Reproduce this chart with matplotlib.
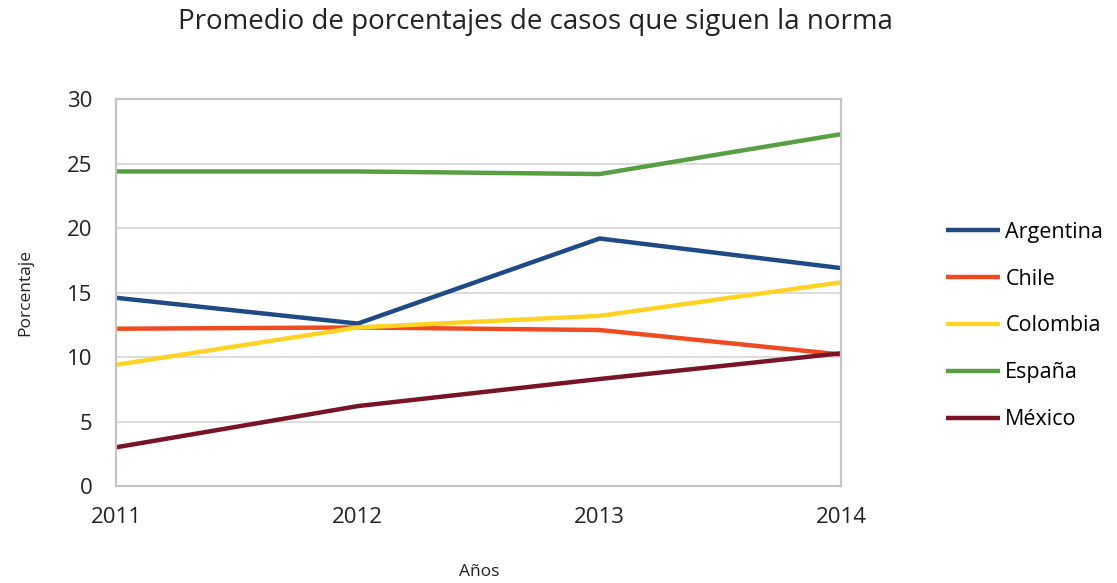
import matplotlib
matplotlib.use('Agg')
import matplotlib.pyplot as plt

plt.rcParams['font.family'] = ['Open Sans', 'DejaVu Sans']

years = [2011, 2012, 2013, 2014]
argentina = [14.6, 12.6, 19.2, 16.9]
chile = [12.2, 12.3, 12.1, 10.2]
colombia = [9.4, 12.3, 13.2, 15.8]
espana = [24.4, 24.4, 24.2, 27.3]
mexico = [3.0, 6.2, 8.3, 10.3]

series = [
    ('Argentina', argentina, '#1F4A85'),
    ('Chile', chile, '#EF4B23'),
    ('Colombia', colombia, '#FFD324'),
    ('España', espana, '#5A9E44'),
    ('México', mexico, '#781426'),
]

fig = plt.figure(figsize=(11.17, 5.83), dpi=100)
ax = fig.add_axes([0.1039, 0.1664, 0.6494, 0.6633])

for name, vals, col in series:
    ax.plot(years, vals, color=col, lw=3.2, label=name, solid_capstyle='butt')

ax.set_xlim(2011, 2014)
ax.set_ylim(0, 30)
ax.set_xticks(years)
ax.set_yticks(range(0, 31, 5))
ax.yaxis.grid(True, color='#D9D9D9', lw=1.3)
ax.set_axisbelow(True)
for s in ax.spines.values():
    s.set_color('#C4C4C4')
    s.set_linewidth(1.6)
ax.tick_params(length=0, labelsize=16, colors='#222222')
ax.tick_params(axis='x', pad=15)
ax.tick_params(axis='y', pad=17)

ax.set_ylabel('Porcentaje', fontsize=12.5, labelpad=24, color='#222222')
ax.set_xlabel('Años', fontsize=12.5, labelpad=26, color='#222222')
fig.text(0.479, 0.962, 'Promedio de porcentajes de casos que siguen la norma',
         ha='center', va='center', fontsize=20, color='#222222')

fig.legend(loc='center left', bbox_to_anchor=(0.847, 0.441), frameon=False,
           fontsize=15.5, handlelength=2.5, handletextpad=0.25, labelspacing=1.2,
           borderpad=0, borderaxespad=0)

fig.savefig('out.png', dpi=100)
